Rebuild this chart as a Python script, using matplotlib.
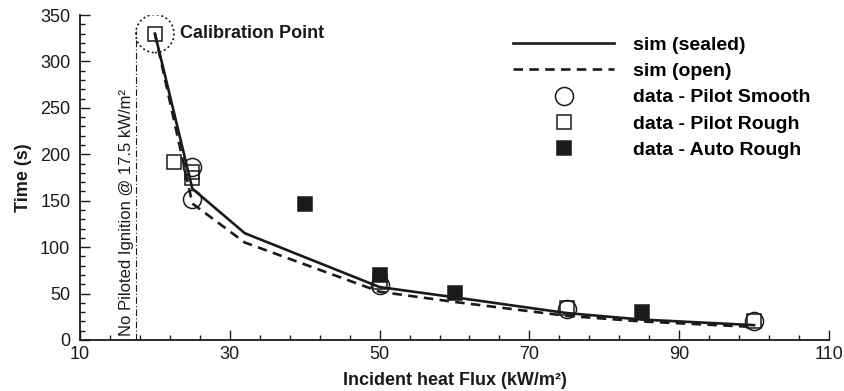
import matplotlib
matplotlib.use("Agg")
import matplotlib.pyplot as plt
from matplotlib.patches import Ellipse
from matplotlib.ticker import MultipleLocator

plt.rcParams["font.family"] = ["Liberation Sans", "DejaVu Sans"]

# simulation curves
sim_flux = [20, 25, 32, 50, 60, 75, 85, 100]
sim_sealed = [330, 163, 115, 57, 46, 29, 22, 16]
sim_open = [330, 147, 105, 52, 41, 26, 20, 14]

# measured data
smooth_flux = [25, 25, 50, 75, 100]
smooth_time = [186, 152, 59, 33, 21]

pilot_rough_flux = [20, 22.5, 25, 25, 50, 75, 100]
pilot_rough_time = [330, 192, 181, 174, 62, 34, 21]

auto_rough_flux = [40, 50, 60, 85]
auto_rough_time = [146, 70, 51, 30]

calib_flux, calib_time = 20, 330
no_ignition_flux = 17.5

x_ticks = [10, 30, 50, 70, 90, 110]

ink = "#1a1a1a"

fig = plt.figure(figsize=(8.45, 3.91), dpi=100)
ax = fig.add_axes([80 / 845, 51 / 391, 749 / 845, 325 / 391])

ax.plot(sim_flux, sim_sealed, color=ink, lw=1.9, label="sim (sealed)")
ax.plot(sim_flux, sim_open, color=ink, lw=1.9, dashes=(3.6, 2.4), label="sim (open)")
ax.plot(smooth_flux, smooth_time, "o", ms=13, mfc="none", mec=ink, mew=1.1,
        label="data - Pilot Smooth")
ax.plot(pilot_rough_flux, pilot_rough_time, "s", ms=9.5, mfc="none", mec=ink, mew=1.1,
        label="data - Pilot Rough")
ax.plot(auto_rough_flux, auto_rough_time, "s", ms=9.5, mfc=ink, mec=ink, mew=1.1,
        label="data - Auto Rough")

# calibration circle and no-ignition line
ax.add_patch(Ellipse((calib_flux, calib_time), 5.1, 41, fill=False, ec=ink,
                     lw=1.2, ls=(0, (1.2, 1.6))))
ax.plot([no_ignition_flux, no_ignition_flux], [0, 333], color=ink, lw=0.8,
        ls=(0, (6, 2, 1, 2)))
ax.text(no_ignition_flux - 0.3, 4, "No Piloted Ignition @ 17.5 kW/m²", rotation=90,
        ha="right", va="bottom", fontsize=12, color=ink)
ax.text(23.3, calib_time, "Calibration Point", fontsize=13, fontweight="bold",
        va="center", ha="left", color=ink)

ax.set_xlim(10, 110)
ax.set_ylim(0, 350)
ax.set_xticks(x_ticks)
ax.set_xticks(range(10, 111, 4), minor=True)
ax.yaxis.set_major_locator(MultipleLocator(50))
ax.yaxis.set_minor_locator(MultipleLocator(10))
ax.tick_params(which="both", direction="in", color=ink, width=1.0, labelsize=13,
               labelcolor=ink, top=False, right=False)
ax.tick_params(which="major", length=7)
ax.tick_params(which="minor", length=3.6)
ax.tick_params(axis="y", pad=7)
ax.tick_params(axis="x", pad=4)

for side in ["top", "right"]:
    ax.spines[side].set_visible(False)
for side in ["left", "bottom"]:
    ax.spines[side].set_linewidth(1.3)
    ax.spines[side].set_color(ink)

ax.set_xlabel("Incident heat Flux (kW/m²)", fontsize=13, fontweight="bold",
              color=ink, labelpad=7)
ax.set_ylabel("Time (s)", fontsize=13, fontweight="bold", color=ink, labelpad=6)

ax.legend(loc="upper left", bbox_to_anchor=(513 / 845, 1 - 36 / 391),
          bbox_transform=fig.transFigure, frameon=False,
          prop={"weight": "bold", "size": 14}, handlelength=5.2, handletextpad=0.95,
          labelspacing=0.45, borderpad=0, borderaxespad=0, numpoints=1)

fig.savefig("out.png", dpi=100)
